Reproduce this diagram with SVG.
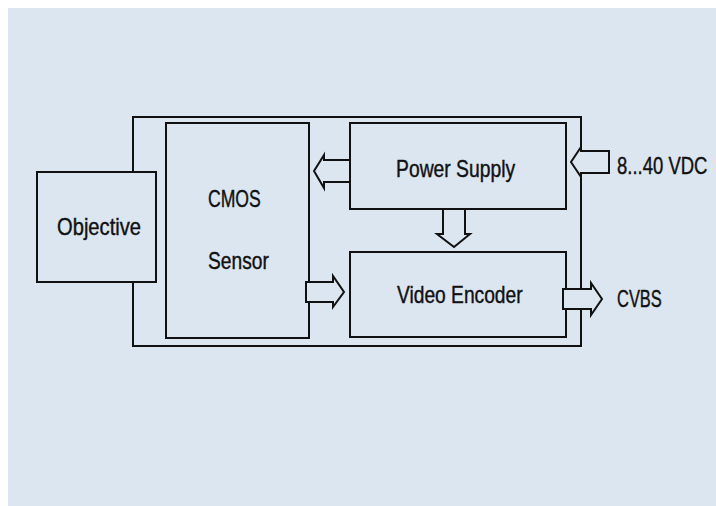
<svg xmlns="http://www.w3.org/2000/svg" width="716" height="506" viewBox="0 0 716 506">
<style>
.box{fill:#dce6f1;stroke:#111;stroke-width:2}
.frame{fill:none;stroke:#111;stroke-width:2}
.arr{fill:#dce6f1;stroke:#111;stroke-width:2;stroke-linejoin:miter}
.t{font-family:"Liberation Sans",Arial,sans-serif;font-size:23px;fill:#111;stroke:#111;stroke-width:0.4}
</style>
<rect x="8" y="8" width="708" height="498" fill="#dce6f1"/>
<g id="housing"><rect class="frame" x="133" y="117" width="448" height="229"/></g>
<g id="objective">
<rect class="box" x="37" y="172" width="119" height="110"/>
<text class="t" transform="translate(57,235) scale(0.8,1)" textLength="105" lengthAdjust="spacingAndGlyphs">Objective</text>
</g>
<g id="cmos">
<rect class="box" x="166" y="123" width="143" height="215"/>
<text class="t" transform="translate(208,207) scale(0.8,1)" textLength="66" lengthAdjust="spacingAndGlyphs">CMOS</text>
<text class="t" transform="translate(208,269) scale(0.8,1)" textLength="76" lengthAdjust="spacingAndGlyphs">Sensor</text>
</g>
<g id="power">
<rect class="box" x="350" y="123" width="216" height="86"/>
<text class="t" transform="translate(396,177) scale(0.8,1)" textLength="149" lengthAdjust="spacingAndGlyphs">Power Supply</text>
</g>
<g id="video">
<rect class="box" x="350" y="252" width="216" height="85"/>
<text class="t" transform="translate(397,303) scale(0.8,1)" textLength="157" lengthAdjust="spacingAndGlyphs">Video Encoder</text>
</g>
<g id="connectors">
<polygon class="arr" points="350,160 324,160 324,155 314,171 324,188 324,182 350,182"/>
<polygon class="arr" points="306,282 333,282 333,276 344,292 333,307 333,302 306,302"/>
<polygon class="arr" points="443,209 443,234 437,234 454,247 470,234 465,234 465,209"/>
<polygon class="arr" points="609,151 581,151 581,147 571,162 581,177 581,173 609,173"/>
<polygon class="arr" points="563,289 591,289 591,283 602,299 591,315 591,309 563,309"/>
</g>
<g id="labels">
<text class="t" transform="translate(617,174) scale(0.8,1)" textLength="113" lengthAdjust="spacingAndGlyphs">8...40 VDC</text>
<text class="t" transform="translate(617,307) scale(0.8,1)" textLength="56" lengthAdjust="spacingAndGlyphs">CVBS</text>
</g>
</svg>
